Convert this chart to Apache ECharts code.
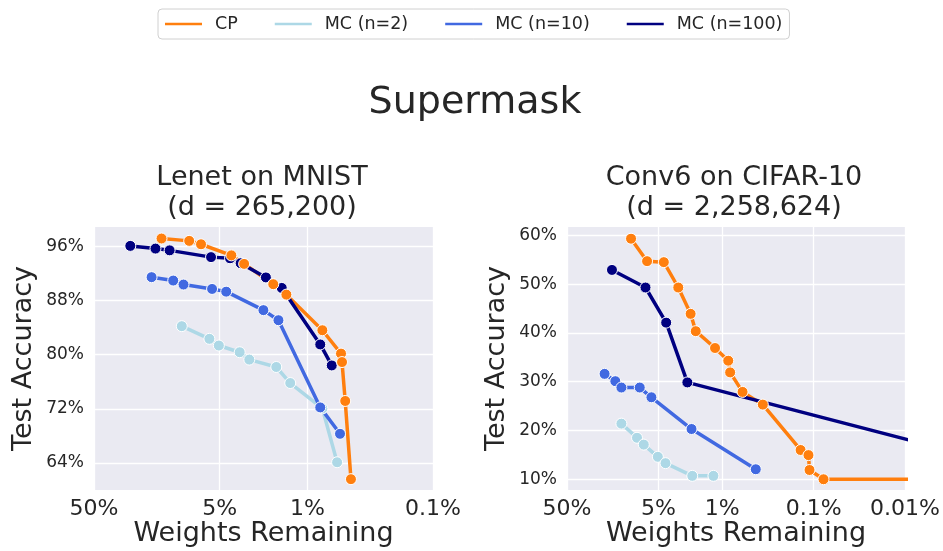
<!DOCTYPE html>
<html><head><meta charset="utf-8">
<script src="https://cdn.jsdelivr.net/npm/echarts@6/dist/echarts.min.js"></script>
<style>html,body{margin:0;padding:0;background:#fff}#c{width:943px;height:551px}</style>
</head><body><div id="c"></div>
<script>
const seriesNames = ['CP', 'MC (n=2)', 'MC (n=10)', 'MC (n=100)'];
const seriesColors = ['#ff7f0e', '#add8e6', '#4169e1', '#000080'];
const xTicksLeft = [50, 5, 1, 0.1];
const xTicksRight = [50, 5, 1, 0.1, 0.01];
const yTicksLeft = [64, 72, 80, 88, 96];
const yTicksRight = [10, 20, 30, 40, 50, 60];

// Lenet on MNIST: [weights remaining (%), test accuracy (%)]
const mnistCP = [[14.5, 97.15], [8.73, 96.8], [7.03, 96.3], [4.03, 94.66], [3.19, 93.4], [1.87, 90.4], [1.47, 88.86], [0.76, 83.6], [0.54, 80.15], [0.53, 78.9], [0.50, 73.15], [0.45, 61.6]];
const mnistMC2 = [[10.0, 84.2], [6.03, 82.33], [5.07, 81.34], [3.46, 80.35], [2.90, 79.26], [1.77, 78.17], [1.37, 75.8], [0.76, 72.04], [0.58, 64.1]];
const mnistMC10 = [[17.4, 91.44], [11.7, 90.94], [9.69, 90.35], [5.74, 89.7], [4.43, 89.3], [2.24, 86.57], [1.70, 85.08], [0.79, 72.2], [0.55, 68.3]];
const mnistMC100 = [[25.7, 96.06], [16.2, 95.66], [12.5, 95.4], [5.85, 94.4], [4.13, 94.23], [3.40, 93.5], [2.14, 91.4], [1.60, 89.85], [0.79, 81.5], [0.64, 78.4]];

// Conv6 on CIFAR-10
const cifarCP = [[9.96, 59.3], [6.65, 54.7], [4.36, 54.5], [3.03, 49.3], [2.22, 43.9], [1.95, 40.35], [1.20, 36.9], [0.86, 34.3], [0.82, 31.9], [0.60, 27.9], [0.36, 25.3], [0.139, 16.0], [0.114, 14.95], [0.111, 11.9], [0.078, 10.0], [0.005, 10.0]];
const cifarMC2 = [[12.7, 21.4], [8.57, 18.5], [7.23, 17.1], [5.07, 14.6], [4.18, 13.3], [2.13, 10.7], [1.25, 10.7]];
const cifarMC10 = [[19.4, 31.6], [14.8, 30.1], [12.7, 28.8], [8.0, 28.8], [5.96, 26.8], [2.17, 20.3], [0.43, 12.05]];
const cifarMC100 = [[16.1, 52.9], [6.92, 49.3], [4.11, 42.1], [2.41, 29.85], [0.005, 16.8]];

const FONT = 'DejaVu Sans';
const TXT = '#262626';
const fmtPct = v => (+(+v).toPrecision(3)) + '%';

function xAxisOpt(gi, min, ticks) {
  return {
    type: 'log', logBase: 10, gridIndex: gi, min: min, max: 50, inverse: true,
    name: 'Weights Remaining', nameLocation: 'middle', nameGap: 28,
    nameTextStyle: { fontSize: 27, color: TXT, fontFamily: FONT },
    axisLine: { show: false },
    axisTick: { show: false, customValues: ticks },
    axisLabel: { customValues: ticks, formatter: fmtPct, fontSize: 22, color: TXT, fontFamily: FONT, margin: 8 },
    splitLine: { show: true, lineStyle: { color: '#ffffff', width: 1.3 } },
    minorTick: { show: false }, minorSplitLine: { show: false }
  };
}
function yAxisOpt(gi, min, max, ticks) {
  return {
    type: 'value', gridIndex: gi, min: min, max: max,
    name: 'Test Accuracy', nameLocation: 'middle', nameGap: 57, nameRotate: 90,
    nameTextStyle: { fontSize: 27, color: TXT, fontFamily: FONT },
    axisLine: { show: false },
    axisTick: { show: false, customValues: ticks },
    axisLabel: { customValues: ticks, formatter: fmtPct, fontSize: 17, color: TXT, fontFamily: FONT, margin: 10 },
    splitLine: { show: true, lineStyle: { color: '#ffffff', width: 1.3 } }
  };
}
// lines (underneath) and markers (on top) drawn from the same arrays
function mkLine(idx, data, gi) {
  const c = seriesColors[idx];
  return {
    name: seriesNames[idx], type: 'line', xAxisIndex: gi, yAxisIndex: gi, data: data,
    color: c, lineStyle: { width: 3.5, color: c }, showSymbol: false, symbol: 'none',
    itemStyle: { color: c }, clip: true, animation: false, emphasis: { disabled: true }, z: 2
  };
}
function mkDots(idx, data, gi, z) {
  const c = seriesColors[idx];
  return {
    name: seriesNames[idx], type: 'scatter', xAxisIndex: gi, yAxisIndex: gi, data: data,
    color: c, symbol: 'circle', symbolSize: 11,
    itemStyle: { color: c, borderColor: '#ffffff', borderWidth: 1, opacity: 1 },
    clip: true, animation: false, emphasis: { disabled: true }, z: z
  };
}

const chart = echarts.init(document.getElementById('c'), null, { renderer: 'canvas' });
chart.setOption({
  backgroundColor: '#ffffff',
  animation: false,
  textStyle: { fontFamily: FONT },
  legend: {
    left: 158, top: 9, itemWidth: 37, itemHeight: 2.5, itemGap: 37, icon: 'rect',
    padding: [6, 7], borderColor: '#d0d0d0', borderWidth: 1, borderRadius: 4,
    itemStyle: { borderWidth: 0, opacity: 1 },
    textStyle: { fontSize: 17.5, color: TXT, fontFamily: FONT, padding: [0, 0, 0, 8] },
    data: seriesNames
  },
  grid: [
    { left: 94, top: 227, width: 339, height: 263, show: true, backgroundColor: '#eaeaf2', borderWidth: 0 },
    { left: 567, top: 227, width: 340, height: 263, show: true, backgroundColor: '#eaeaf2', borderWidth: 0 }
  ],
  xAxis: [xAxisOpt(0, 0.1, xTicksLeft), xAxisOpt(1, 0.01, xTicksRight)],
  yAxis: [yAxisOpt(0, 60, 98.85, yTicksLeft), yAxisOpt(1, 7.8, 61.7, yTicksRight)],
  graphic: [
    { type: 'text', x: 475, y: 103, style: { text: 'Supermask', font: '38px "DejaVu Sans"', fill: TXT, textAlign: 'center', textVerticalAlign: 'middle' } },
    { type: 'text', x: 262, y: 178, style: { text: 'Lenet on MNIST', font: '27px "DejaVu Sans"', fill: TXT, textAlign: 'center', textVerticalAlign: 'middle' } },
    { type: 'text', x: 262, y: 208, style: { text: '(d = 265,200)', font: '27px "DejaVu Sans"', fill: TXT, textAlign: 'center', textVerticalAlign: 'middle' } },
    { type: 'text', x: 734, y: 178, style: { text: 'Conv6 on CIFAR-10', font: '27px "DejaVu Sans"', fill: TXT, textAlign: 'center', textVerticalAlign: 'middle' } },
    { type: 'text', x: 734, y: 208, style: { text: '(d = 2,258,624)', font: '27px "DejaVu Sans"', fill: TXT, textAlign: 'center', textVerticalAlign: 'middle' } }
  ],
  series: [
    mkLine(0, mnistCP, 0), mkLine(1, mnistMC2, 0), mkLine(2, mnistMC10, 0), mkLine(3, mnistMC100, 0),
    mkLine(0, cifarCP, 1), mkLine(1, cifarMC2, 1), mkLine(2, cifarMC10, 1), mkLine(3, cifarMC100, 1),
    mkDots(1, mnistMC2, 0, 3), mkDots(2, mnistMC10, 0, 3), mkDots(3, mnistMC100, 0, 3), mkDots(0, mnistCP, 0, 4),
    mkDots(1, cifarMC2, 1, 3), mkDots(2, cifarMC10, 1, 3), mkDots(3, cifarMC100, 1, 3), mkDots(0, cifarCP, 1, 4)
  ]
});
</script>
</body></html>
